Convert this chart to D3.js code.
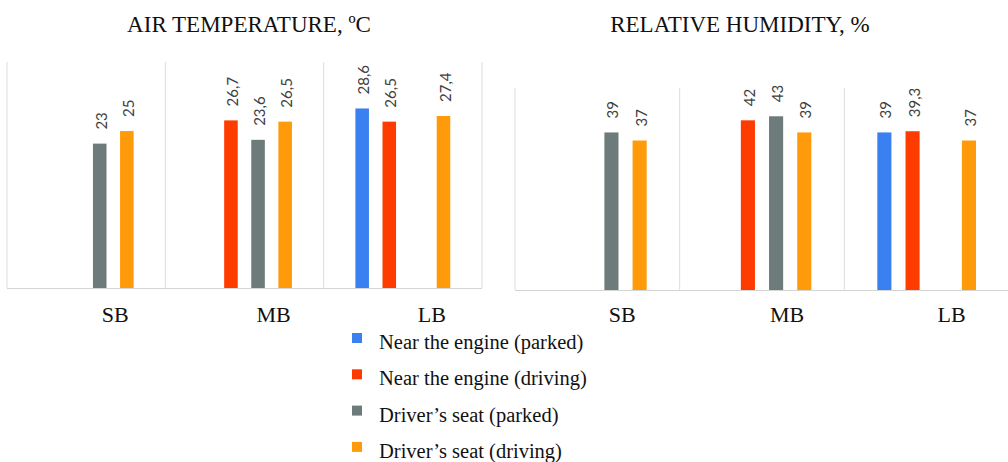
<!DOCTYPE html>
<html>
<head>
<meta charset="utf-8">
<script src="https://cdn.jsdelivr.net/npm/d3@7"></script>
<style>
  body { margin: 0; background: #fff; }
  svg { display: block; }
</style>
</head>
<body>
<svg id="chart" width="1008" height="462"></svg>
<script>
var categories = ["SB", "MB", "LB"];
var seriesNames = ["Near the engine (parked)", "Near the engine (driving)", "Driver\u2019s seat (parked)", "Driver\u2019s seat (driving)"];
var seriesColors = ["#3a80f0", "#ff3c00", "#6e7b7b", "#ff9b0a"];

// air temperature, one array per series (null = no bar)
var tempEngineParked  = [null, null, 28.6];
var tempEngineDriving = [null, 26.7, 26.5];
var tempSeatParked    = [23, 23.6, null];
var tempSeatDriving   = [25, 26.5, 27.4];

// relative humidity
var humEngineParked  = [null, null, 39];
var humEngineDriving = [null, 42, 39.3];
var humSeatParked    = [39, 43, null];
var humSeatDriving   = [37, 39, 37];

var svg = d3.select("#chart");

var panels = [
  { title: "AIR TEMPERATURE, \u00baC", titleX: 249, left: 7, right: 482, top: 62, bottom: 288, yMax: 36, labelShift: 29,
    series: [tempEngineParked, tempEngineDriving, tempSeatParked, tempSeatDriving], rightBorder: true },
  { title: "RELATIVE HUMIDITY, %", titleX: 740, left: 515, right: 1009, top: 88, bottom: 290, yMax: 50, labelShift: 25,
    series: [humEngineParked, humEngineDriving, humSeatParked, humSeatDriving], rightBorder: false }
];

function fmt(v) {
  return String(v).replace(".", ",");
}

panels.forEach(function(p) {
  var g = svg.append("g");

  var x0 = d3.scaleBand()
    .domain(categories)
    .range([p.left, p.right])
    .padding(0);

  var x1 = d3.scaleBand()
    .domain(d3.range(seriesNames.length))
    .range([0, x0.bandwidth()])
    .paddingInner(0.5)
    .paddingOuter(1.17);

  var y = d3.scaleLinear()
    .domain([0, p.yMax])
    .range([p.bottom, p.top]);

  // separators
  var lines = categories.map(function(c) { return x0(c); });
  if (p.rightBorder) lines.push(p.right);
  g.selectAll("line.sep")
    .data(lines)
    .enter()
    .append("line")
    .attr("x1", function(d) { return d; })
    .attr("x2", function(d) { return d; })
    .attr("y1", p.top)
    .attr("y2", p.bottom)
    .attr("stroke", "#dcdcdc")
    .attr("stroke-width", 1);

  g.append("line")
    .attr("x1", p.left)
    .attr("x2", p.right)
    .attr("y1", p.bottom + 0.5)
    .attr("y2", p.bottom + 0.5)
    .attr("stroke", "#d4d4d4")
    .attr("stroke-width", 1.2);

  var bars = [];
  p.series.forEach(function(vals, si) {
    vals.forEach(function(v, ci) {
      if (v != null) bars.push({ s: si, c: categories[ci], v: v });
    });
  });

  g.selectAll("rect")
    .data(bars)
    .enter()
    .append("rect")
    .attr("x", function(d) { return x0(d.c) + x1(d.s); })
    .attr("y", function(d) { return y(d.v); })
    .attr("width", x1.bandwidth())
    .attr("height", function(d) { return y(0) - y(d.v); })
    .attr("fill", function(d) { return seriesColors[d.s]; });

  g.selectAll("text.val")
    .data(bars)
    .enter()
    .append("text")
    .attr("class", "val")
    .attr("transform", function(d) {
      var cx = x0(d.c) + x1(d.s) + x1.bandwidth() / 2 + 1;
      return "translate(" + cx + "," + (y(d.v) - 14) + ") rotate(-90)";
    })
    .attr("dominant-baseline", "central")
    .attr("font-family", "Lato, 'Open Sans', sans-serif")
    .attr("font-size", 15)
    .attr("fill", "#404040")
    .text(function(d) { return fmt(d.v); });

  g.selectAll("text.cat")
    .data(categories)
    .enter()
    .append("text")
    .attr("class", "cat")
    .attr("x", function(d) { return x0(d) + x0.bandwidth() / 2 + p.labelShift; })
    .attr("y", 322)
    .attr("text-anchor", "middle")
    .attr("font-family", "'Liberation Serif', 'Times New Roman', serif")
    .attr("font-size", 22)
    .attr("fill", "#111")
    .text(function(d) { return d; });

  g.append("text")
    .attr("x", p.titleX)
    .attr("y", 32)
    .attr("text-anchor", "middle")
    .attr("font-family", "'Liberation Serif', 'Times New Roman', serif")
    .attr("font-size", 23)
    .attr("fill", "#111")
    .text(p.title);
});

// legend
var legend = svg.append("g").attr("transform", "translate(352,333)");
var item = legend.selectAll("g")
  .data(seriesNames)
  .enter()
  .append("g")
  .attr("transform", function(d, i) { return "translate(0," + (i * 36.3) + ")"; });

item.append("rect")
  .attr("width", 10)
  .attr("height", 10)
  .attr("fill", function(d, i) { return seriesColors[i]; });

item.append("text")
  .attr("x", 27)
  .attr("y", 16)
  .attr("font-family", "'Liberation Serif', 'Times New Roman', serif")
  .attr("font-size", 20.5)
  .attr("fill", "#111")
  .text(function(d) { return d; });
</script>
</body>
</html>
